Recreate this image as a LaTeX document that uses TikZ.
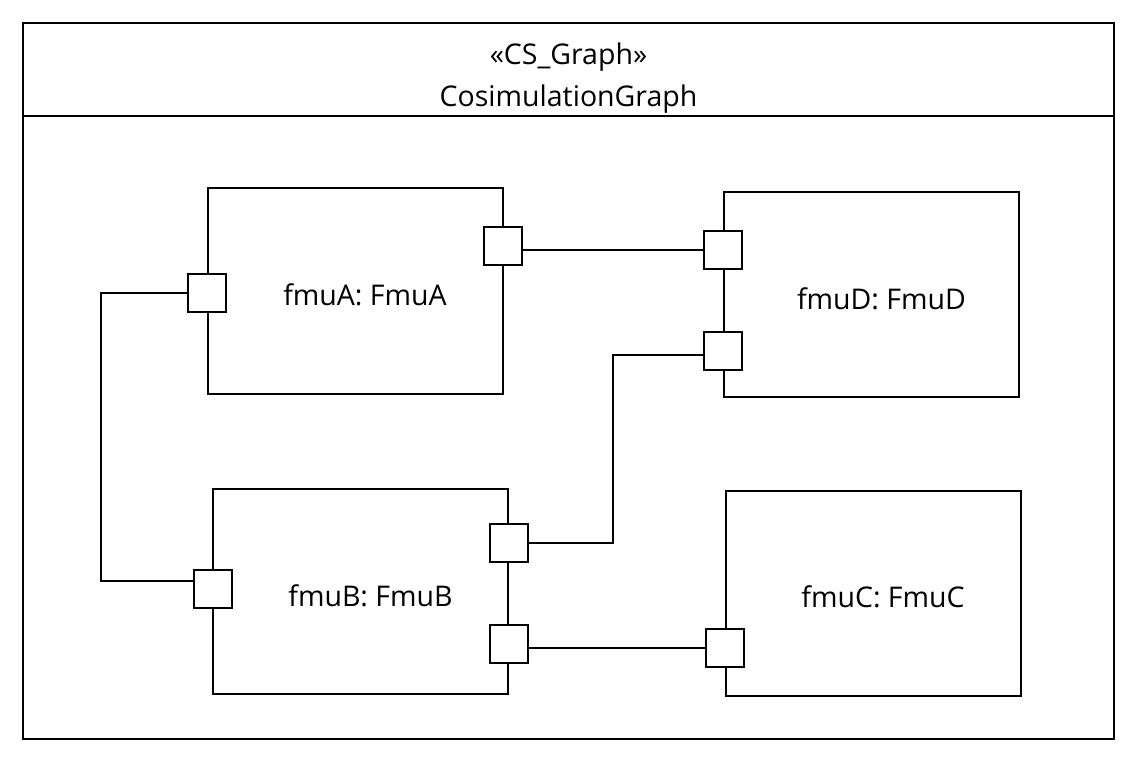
\documentclass[tikz,border=0pt]{standalone}
\usepackage{fontspec}
\setmainfont{Open Sans}
\begin{document}
\begin{tikzpicture}[x=1pt, y=-1pt, line width=2pt,
    fmu/.style={draw, minimum width=295pt, minimum height=205pt, inner sep=0pt},
    fmutext/.style={xshift=10pt, yshift=-4pt},
    port/.style={draw, fill=white, minimum size=38pt, inner sep=0pt},
    every node/.style={font=\fontsize{28.5}{34}\selectfont}]
        \useasboundingbox (0,0) rectangle (1137,762);

        % marco del grafo
        \draw (23,23) rectangle (1114,739);
        \draw (23,116) -- (1114,116);
        \node[anchor=base] (stereo) at (568.5,65) {«CS\_Graph»};
        \node[anchor=base] (gname) at (568.5,107) {CosimulationGraph};

        % bloques fmu
        \node[fmu] (A) at (355,291) {};
        \node[fmu] (D) at (871.5,294.5) {};
        \node[fmu] (B) at (360.5,591.5) {};
        \node[fmu] (C) at (873,593) {};
        \node[fmutext] (tA) at (A) {fmuA: FmuA};
        \node[fmutext] (tD) at (D) {fmuD: FmuD};
        \node[fmutext] (tB) at (B) {fmuB: FmuB};
        \node[fmutext] (tC) at (C) {fmuC: FmuC};

        % puertos
        \node[port] (pAl) at (207,292.5) {};
        \node[port] (pAr) at (503,245.5) {};
        \node[port] (pDu) at (723,249.5) {};
        \node[port] (pDd) at (723,350.5) {};
        \node[port] (pBl) at (213,588.5) {};
        \node[port] (pBu) at (509,543) {};
        \node[port] (pBd) at (509,644) {};
        \node[port] (pCl) at (725,647.5) {};

        % conexiones
        \coordinate (kAB) at (101,581);
        \coordinate (kBD) at (613,355);
        \draw (pAr.east |- pDu.west) -- (pDu.west);
        \draw (pAl.west) -| (kAB) -- ([yshift=7.5pt]pBl.west);
        \draw (pBu.east) -| (kBD) -- ([yshift=-4.5pt]pDd.west);
        \draw (pBd.east |- pCl.west) -- (pCl.west);

\end{tikzpicture}
\end{document}
